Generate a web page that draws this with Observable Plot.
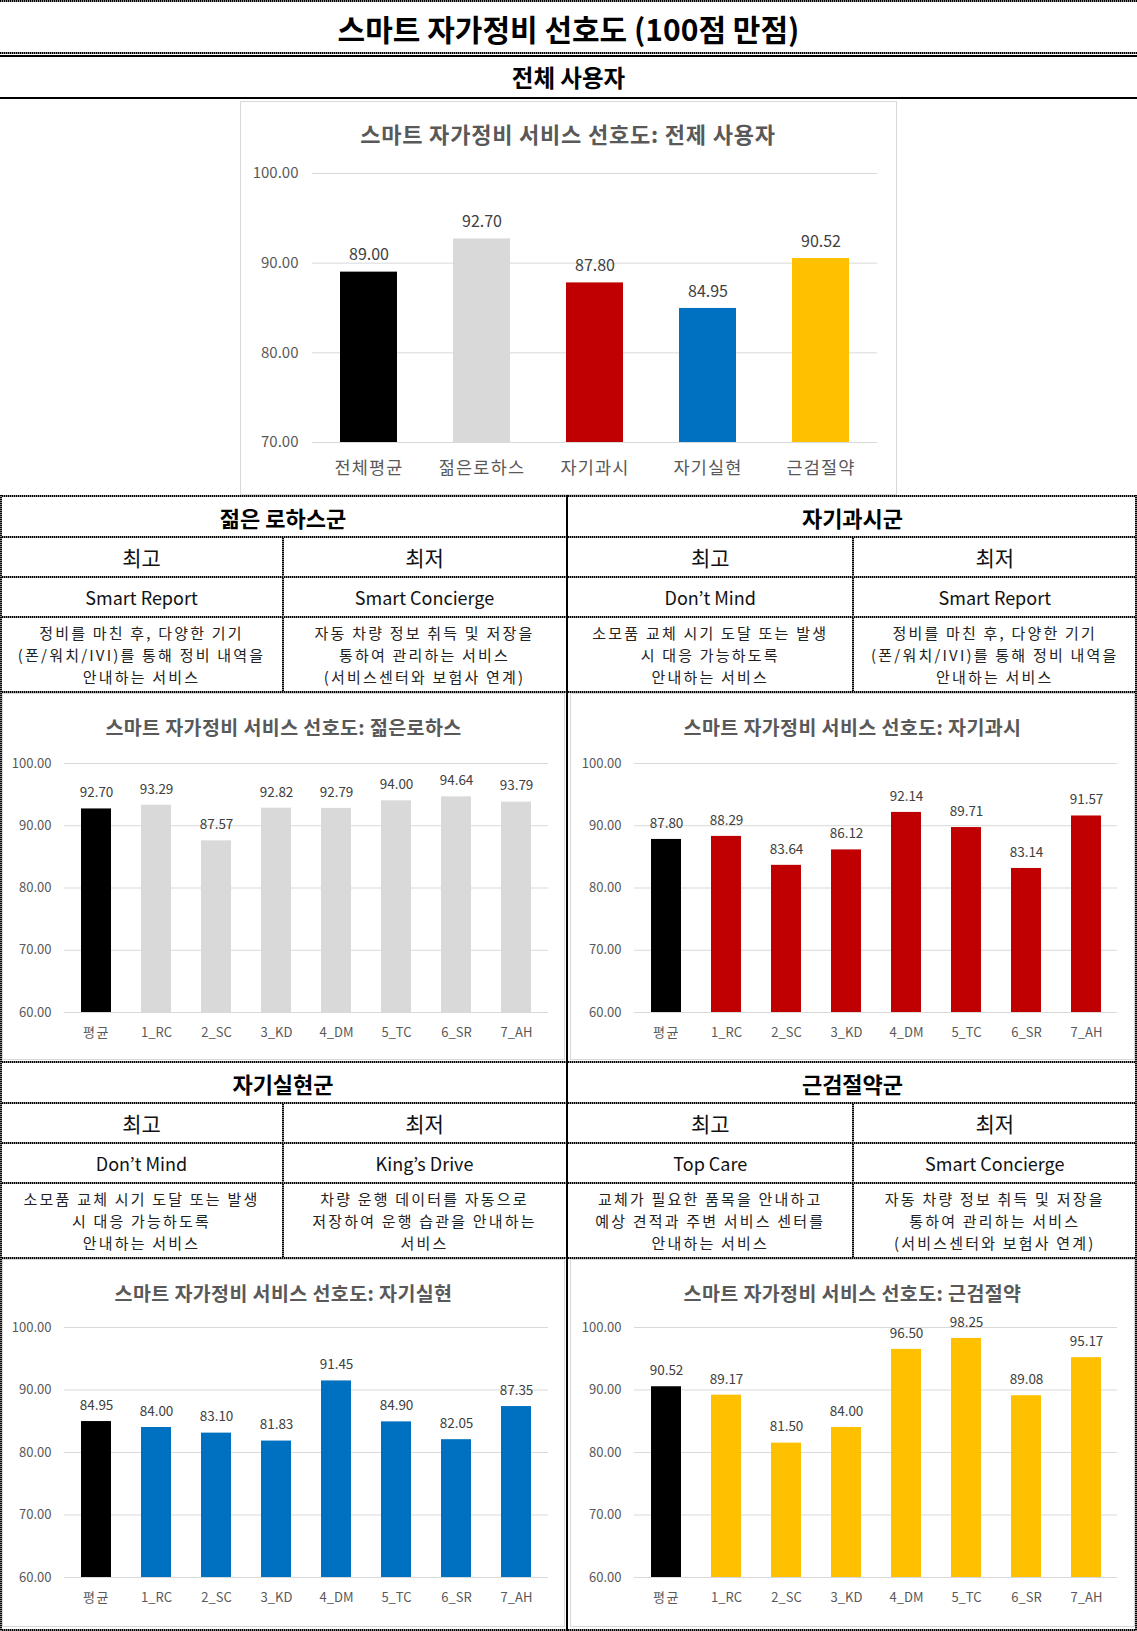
<!DOCTYPE html>
<html><head><meta charset="utf-8">
<script src="https://cdn.jsdelivr.net/npm/d3@7"></script>
<script src="https://cdn.jsdelivr.net/npm/@observablehq/plot@0.6"></script>
<style>
body{margin:0;background:#fff;font-family:"Noto Sans CJK KR","Noto Sans",sans-serif;}
#page{position:relative;width:1137px;height:1631px;overflow:hidden;background:#fff;}
.hl{position:absolute;left:0;width:1137px;height:2px;background:repeating-linear-gradient(90deg,#000 0 1px,#888 1px 2px);}
.hs{position:absolute;left:0;width:1137px;height:2px;background:#000;}
.vl{position:absolute;width:2px;background:repeating-linear-gradient(180deg,#000 0 1px,#888 1px 2px);}
.vs{position:absolute;width:2px;background:#000;}
.cell{position:absolute;display:flex;align-items:center;justify-content:center;text-align:center;color:#111;}
.box{position:absolute;border:1px solid #d9d9d9;box-sizing:border-box;}
.ctitle{position:absolute;transform:translate(-50%,-50%);white-space:nowrap;font-weight:bold;color:#595959;}
.chart{position:absolute;}
</style></head>
<body><div id="page"></div>
<script>
// ---- data ----
const mainCategories = ["전체평균", "젊은로하스", "자기과시", "자기실현", "근검절약"];
const mainValues = [89.00, 92.70, 87.80, 84.95, 90.52];
const mainColors = ["#000000", "#d9d9d9", "#c00000", "#0070c0", "#ffc000"];
const mainTicks = [70, 80, 90, 100];

const serviceCodes = ["평균", "1_RC", "2_SC", "3_KD", "4_DM", "5_TC", "6_SR", "7_AH"];
const smallTicks = [60, 70, 80, 90, 100];
const lohasValues = [92.70, 93.29, 87.57, 92.82, 92.79, 94.00, 94.64, 93.79];
const showoffValues = [87.80, 88.29, 83.64, 86.12, 92.14, 89.71, 83.14, 91.57];
const selfValues = [84.95, 84.00, 83.10, 81.83, 91.45, 84.90, 82.05, 87.35];
const thriftValues = [90.52, 89.17, 81.50, 84.00, 96.50, 98.25, 89.08, 95.17];

const groupNames = ["젊은 로하스군", "자기과시군", "자기실현군", "근검절약군"];
const groupShort = ["젊은로하스", "자기과시", "자기실현", "근검절약"];
const groupColors = ["#d9d9d9", "#c00000", "#0070c0", "#ffc000"];
const bestNames = ["Smart Report", "Don’t Mind", "Don’t Mind", "Top Care"];
const worstNames = ["Smart Concierge", "Smart Report", "King’s Drive", "Smart Concierge"];
const descReport = ["정비를 마친 후, 다양한 기기", "(폰/워치/IVI)를 통해 정비 내역을", "안내하는 서비스"];
const descConcierge = ["자동 차량 정보 취득 및 저장을", "통하여 관리하는 서비스", "(서비스센터와 보험사 연계)"];
const descDontMind = ["소모품 교체 시기 도달 또는 발생", "시 대응 가능하도록", "안내하는 서비스"];
const descKings = ["차량 운행 데이터를 자동으로", "저장하여 운행 습관을 안내하는", "서비스"];
const descTopCare = ["교체가 필요한 품목을 안내하고", "예상 견적과 주변 서비스 센터를", "안내하는 서비스"];
const bestDescs = [descReport, descDontMind, descDontMind, descTopCare];
const worstDescs = [descConcierge, descReport, descKings, descConcierge];
const groupValues = [lohasValues, showoffValues, selfValues, thriftValues];

const pageTitle = "스마트 자가정비 선호도 (100점 만점)";
const allUsersLabel = "전체 사용자";
const chartTitlePrefix = "스마트 자가정비 서비스 선호도: ";

// ---- layout helpers ----
const page = document.getElementById("page");
function el(cls, style, html) {
  const d = document.createElement("div");
  d.className = cls;
  Object.assign(d.style, style);
  if (html != null) d.innerHTML = html;
  page.appendChild(d);
  return d;
}
const FONT = '"Noto Sans CJK KR","Noto Sans",sans-serif';

function barChart({cats, vals, colors, domain, ticks, width, height, ml, mr, mt, mb, tickSize, xSize, xSpacing, labelSize, tickPad, xPad, dy}) {
  const data = cats.map((c, i) => ({c, v: vals[i], col: colors[i]}));
  const svg = Plot.plot({
    width, height, marginLeft: ml, marginRight: mr, marginTop: mt, marginBottom: mb,
    style: {fontFamily: FONT, background: "transparent", color: "#595959", overflow: "visible"},
    x: {domain: cats, paddingInner: 0.5, paddingOuter: 0.25, label: null},
    y: {domain, label: null},
    color: {type: "identity"},
    marks: [
      Plot.gridY(ticks, {stroke: "#d9d9d9", strokeOpacity: 1, strokeWidth: 1}),
      Plot.axisY(ticks, {tickSize: 0, tickPadding: tickPad, tickFormat: d => d.toFixed(2), fill: "#595959", fontSize: tickSize, label: null}),
      Plot.axisX({tickSize: 0, tickPadding: xPad, fill: "#595959", fontSize: xSize, label: null}),
      Plot.barY(data, {x: "c", y1: domain[0], y2: "v", fill: "col"}),
      Plot.text(data, {x: "c", y: "v", text: d => d.v.toFixed(2), dy, fill: "#404040", fontSize: labelSize})
    ]
  });
  svg.querySelectorAll('g[aria-label="x-axis tick label"] text').forEach(t => {
    if (/[가-힣]/.test(t.textContent)) t.setAttribute("letter-spacing", xSpacing + "px");
  });
  return svg;
}
function placeChart(svg, left, top) {
  const d = el("chart", {left: left + "px", top: top + "px"});
  d.appendChild(svg);
}

// ---- header ----
el("hl", {top: "0px"});
el("cell", {left: "0px", top: "2px", width: "1137px", height: "51px", fontSize: "30px", fontWeight: "bold", color: "#000"}, pageTitle);
el("hl", {top: "52px"});
el("hs", {top: "55px"});
el("cell", {left: "0px", top: "57px", width: "1137px", height: "40px", fontSize: "23.5px", fontWeight: "bold", color: "#000"}, allUsersLabel);
el("hs", {top: "97px"});

// ---- main chart ----
el("box", {left: "240px", top: "101px", width: "657px", height: "394px"});
el("ctitle", {left: "568px", top: "133px", fontSize: "22px", letterSpacing: "0.8px"}, chartTitlePrefix + "전제 사용자");
placeChart(barChart({
  cats: mainCategories, vals: mainValues, colors: mainColors, domain: [70, 100], ticks: mainTicks,
  width: 656, height: 344, ml: 72, mr: 19, mt: 23, mb: 52,
  tickSize: 15, xSize: 17.5, xSpacing: 1.2, labelSize: 16, tickPad: 14, xPad: 19, dy: -17
}), 240, 150);

// ---- group blocks ----
function descLines(lines, left, top, width) {
  lines.forEach((line, i) => {
    el("cell", {left: left + "px", top: (top + 4 + i * 22) + "px", width: width + "px", height: "22px",
      fontSize: "15px", lineHeight: "22px", letterSpacing: "2.2px", color: "#222", whiteSpace: "nowrap"}, line);
  });
}
const blockTops = [495, 1061];
for (let g = 0; g < 4; g++) {
  const row = Math.floor(g / 2), colIdx = g % 2;
  const T = blockTops[row];
  const L = colIdx === 0 ? 0 : 568;
  const W = colIdx === 0 ? 566 : 569;
  const half = W / 2;
  el("cell", {left: L + "px", top: (T + 2) + "px", width: W + "px", height: "39px", fontSize: "22px", fontWeight: "bold", color: "#000"}, groupNames[g]);
  el("cell", {left: L + "px", top: (T + 43) + "px", width: half + "px", height: "38px", fontSize: "21px"}, "최고");
  el("cell", {left: (L + half) + "px", top: (T + 43) + "px", width: half + "px", height: "38px", fontSize: "21px"}, "최저");
  el("cell", {left: L + "px", top: (T + 83) + "px", width: half + "px", height: "38px", fontSize: "18px"}, bestNames[g]);
  el("cell", {left: (L + half) + "px", top: (T + 83) + "px", width: half + "px", height: "38px", fontSize: "18px"}, worstNames[g]);
  descLines(bestDescs[g], L, T + 123, half);
  descLines(worstDescs[g], L + half, T + 123, half);
  el("vl", {left: (L + half - 1) + "px", top: (T + 41) + "px", height: "155px"});

  const boxTop = T + 198;
  const boxH = row === 0 ? 367 : 368;
  el("box", {left: (colIdx === 0 ? 2 : 570) + "px", top: boxTop + "px", width: (colIdx === 0 ? 563 : 565) + "px", height: boxH + "px"});
  el("ctitle", {left: (colIdx === 0 ? 283.5 : 852.5) + "px", top: (row === 0 ? 726 : 1292) + "px", fontSize: "19.5px", letterSpacing: "0.4px"}, chartTitlePrefix + groupShort[g]);
  const cols = serviceCodes.map((_, i) => i === 0 ? "#000000" : groupColors[g]);
  placeChart(barChart({
    cats: serviceCodes, vals: groupValues[g], colors: cols, domain: [60, 100], ticks: smallTicks,
    width: colIdx === 0 ? 567 : 568, height: row === 0 ? 317 : 318,
    ml: colIdx === 0 ? 64 : 65, mr: colIdx === 0 ? 19 : 20, mt: 18, mb: 50,
    tickSize: 13, xSize: 13, xSpacing: 1.5, labelSize: 13.5, tickPad: 13, xPad: 15, dy: -16
  }), colIdx === 0 ? 0 : 569, row === 0 ? 745 : 1309);
}
// horizontal rules for the group blocks
for (const T of blockTops) {
  for (const off of [0, 41, 81, 121, 196]) el("hl", {top: (T + off) + "px"});
}
el("hl", {top: "1629px"});
// verticals
el("vs", {left: "566px", top: "495px", height: "1136px"});
el("vl", {left: "0px", top: "495px", height: "1136px"});
el("vl", {left: "1135px", top: "495px", height: "1136px"});
</script>
</body></html>
